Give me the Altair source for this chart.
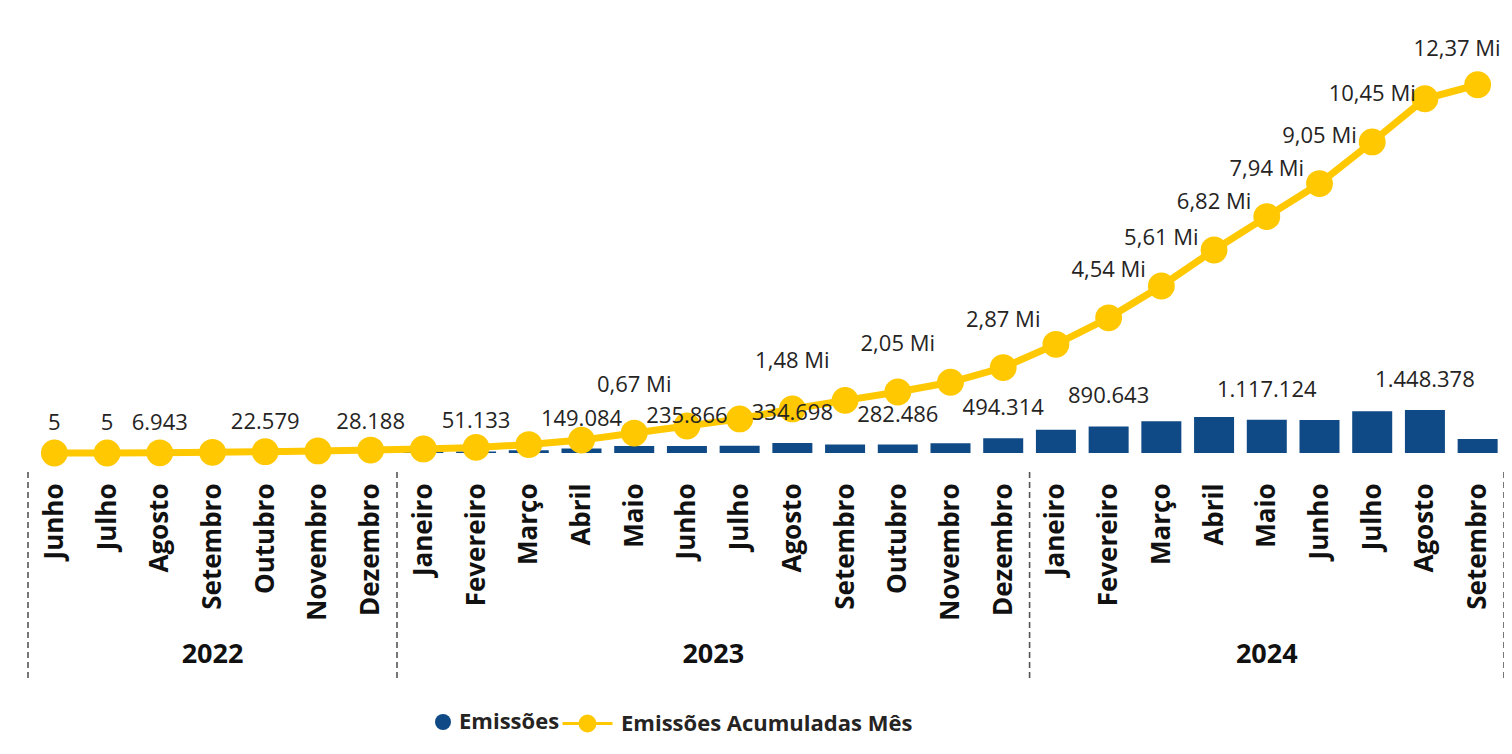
import altair as alt
import pandas as pd

# ---------------- data ----------------
meses = ["Junho", "Julho", "Agosto", "Setembro", "Outubro", "Novembro", "Dezembro",
         "Janeiro", "Fevereiro", "Março", "Abril", "Maio", "Junho", "Julho", "Agosto",
         "Setembro", "Outubro", "Novembro", "Dezembro",
         "Janeiro", "Fevereiro", "Março", "Abril", "Maio", "Junho", "Julho", "Agosto",
         "Setembro"]
anos = ["2022", "2022", "2022", "2022", "2022", "2022", "2022",
        "2023", "2023", "2023", "2023", "2023", "2023", "2023", "2023",
        "2023", "2023", "2023", "2023",
        "2024", "2024", "2024", "2024", "2024", "2024", "2024", "2024",
        "2024"]
emissoes = [5, 5, 6943, 15000, 22579, 25000, 28188,
            40000, 51133, 95000, 149084, 237000, 235866, 240000, 334698,
            288000, 282486, 326000, 494314,
            780000, 890643, 1070000, 1210000, 1117124, 1110000, 1400000, 1448378,
            470000]
acumulado = [5, 10, 6953, 21953, 44532, 69532, 97720,
             137720, 188853, 283853, 432937, 670000, 905866, 1145866, 1480000,
             1768000, 2050000, 2376000, 2870000,
             3650000, 4540000, 5610000, 6820000, 7940000, 9050000, 10450000, 11900000,
             12370000]
# which points carry a data label in the original
rotulo_barra = [1, 1, 1, 0, 1, 0, 1,
                0, 1, 0, 1, 0, 1, 0, 1,
                0, 1, 0, 1,
                0, 1, 0, 0, 1, 0, 0, 1,
                0]
rotulo_linha = [0, 0, 0, 0, 0, 0, 0,
                0, 0, 0, 0, 1, 0, 0, 1,
                0, 1, 0, 1,
                0, 1, 1, 1, 1, 1, 1, 0,
                1]

BLUE = "#0F4A86"
YELLOW = "#FFC800"
TXT = "#252423"
FONT = "Open Sans"

df = pd.DataFrame({
    "idx": list(range(len(meses))),
    "mes": meses,
    "ano": anos,
    "emissoes": emissoes,
    "acumulado": acumulado,
    "rb": rotulo_barra,
    "rl": rotulo_linha,
})

label_expr = "[" + ",".join("'" + m + "'" for m in meses) + "][datum.value]"

xscale = alt.Scale(domain=[-0.5, len(meses) - 0.5], nice=False, zero=False, padding=0)
yscale = alt.Scale(domain=[0, 13000000], nice=False, padding=0)

x_axis = alt.Axis(values=list(range(len(meses))), labelExpr=label_expr,
                  labelAngle=-90, labelFont=FONT, labelFontSize=26,
                  labelFontWeight="bold", labelColor="#111111", labelPadding=30,
                  ticks=False, tickSize=0, domain=False, grid=False,
                  labelOverlap=False, labelFlush=False, labelBound=False,
                  title=None)


def xenc(field):
    return alt.X(field, scale=xscale, axis=x_axis, title=None)


X = xenc("idx:Q")
Y = alt.Y("acumulado:Q", scale=yscale, axis=None)

base = alt.Chart(df)

bars = base.mark_bar(size=40).transform_calculate(
    serie="'Emissões'"
).encode(
    x=X,
    y=alt.Y("emissoes:Q", scale=yscale, axis=None),
    fill=alt.Fill("serie:N",
                  scale=alt.Scale(domain=["Emissões"], range=[BLUE]),
                  legend=alt.Legend(orient="none", legendX=404, legendY=645,
                                    title=None, symbolType="circle", symbolSize=256,
                                    symbolFillColor=BLUE, symbolStrokeWidth=0,
                                    labelFont=FONT, labelFontSize=22,
                                    labelFontWeight="bold", labelColor=TXT,
                                    labelLimit=0, labelOffset=5, padding=0)),
)

line_sym = "M-1,0L1,0M-0.3,0A0.3,0.3,0,1,1,0.3,0A0.3,0.3,0,1,1,-0.3,0Z"

line = base.mark_line(strokeWidth=7).transform_calculate(
    serie2="'Emissões Acumuladas Mês'"
).encode(
    x=X,
    y=Y,
    stroke=alt.Stroke("serie2:N",
                      scale=alt.Scale(domain=["Emissões Acumuladas Mês"], range=[YELLOW]),
                      legend=alt.Legend(orient="none", legendX=533, legendY=631,
                                        title=None, symbolType=line_sym, symbolSize=2500,
                                        symbolFillColor=YELLOW, symbolStrokeColor=YELLOW,
                                        symbolStrokeWidth=3, symbolOpacity=1,
                                        labelFont=FONT, labelFontSize=22,
                                        labelFontWeight="bold", labelColor=TXT,
                                        labelLimit=0, labelOffset=7, padding=0)),
    order="idx:Q",
)

points = base.mark_circle(size=720, color=YELLOW, opacity=1).encode(x=X, y=Y)

bar_labels = base.transform_filter("datum.rb == 1").transform_calculate(
    txt="replace(format(datum.emissoes, ','), regexp(',', 'g'), '.')"
).mark_text(dy=-30, baseline="middle", font=FONT, fontSize=22, color=TXT).encode(
    x=X, y=alt.Y("emissoes:Q", scale=yscale, axis=None), text="txt:N"
)

line_text = "replace(format(datum.acumulado / 1000000, '.2f'), '.', ',') + ' Mi'"

line_labels = base.transform_filter(
    "datum.rl == 1 && datum.idx < %d" % (len(meses) - 1)
).transform_calculate(txt=line_text).mark_text(
    dy=-48, baseline="middle", font=FONT, fontSize=22, color=TXT
).encode(x=X, y=Y, text="txt:N")

last_label = base.transform_filter(
    "datum.rl == 1 && datum.idx == %d" % (len(meses) - 1)
).transform_calculate(txt=line_text).mark_text(
    dy=-36, dx=23, align="right", baseline="middle", font=FONT, fontSize=22, color=TXT
).encode(x=X, y=Y, text="txt:N")

# year labels centred under their months
year_labels = base.transform_aggregate(
    meio="mean(idx)", groupby=["ano"]
).mark_text(font=FONT, fontSize=27, fontWeight="bold", color="#111111",
            baseline="middle").encode(
    x=xenc("meio:Q"),
    y=alt.value(589),
    text="ano:N",
)

# dashed separators between years
sep_start = base.transform_aggregate(
    lo="min(idx)", groupby=["ano"]
).transform_calculate(pos="datum.lo - 0.5").mark_rule(
    color="#555555", strokeWidth=1.6, strokeDash=[6, 4]
).encode(x=xenc("pos:Q"), y=alt.value(406), y2=alt.value(613))

sep_end = base.transform_aggregate(
    hi="max(idx)"
).transform_calculate(pos="datum.hi + 0.5").mark_rule(
    color="#555555", strokeWidth=1.6, strokeDash=[6, 4]
).encode(x=xenc("pos:Q"), y=alt.value(406), y2=alt.value(613))

chart = alt.layer(
    bars, line, points, bar_labels, line_labels, last_label,
    year_labels, sep_start, sep_end
).resolve_scale(
    fill="independent", stroke="independent"
).properties(
    width=1476, height=387,
    autosize=alt.AutoSizeParams(type="none"),
    padding={"left": 20, "top": 58, "right": 0, "bottom": 285},
    background="white",
).configure_view(stroke=None)

chart.save("out.html", embed_options={"renderer": "svg", "actions": False})
